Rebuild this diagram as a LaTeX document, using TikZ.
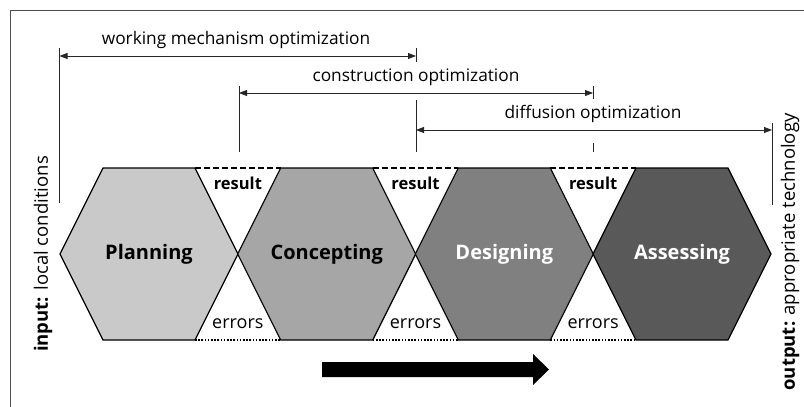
\documentclass[tikz,border=0pt]{standalone}
\usepackage{fontspec}
\setmainfont{Open Sans}
\usetikzlibrary{arrows.meta}

\definecolor{planfill}{gray}{0.79}
\definecolor{concfill}{gray}{0.65}
\definecolor{desfill}{gray}{0.50}
\definecolor{assfill}{gray}{0.35}

\tikzset{
  hexbox/.style={draw=black, line width=1.2pt, line join=miter},
  steplabel/.style={font=\fontsize{20}{23}\selectfont\bfseries},
  gaplabel/.style={font=\fontsize{18}{21}\selectfont},
  resultlabel/.style={font=\fontsize{16.5}{20}\selectfont\bfseries},
  spanlabel/.style={font=\fontsize{17.3}{20}\selectfont},
  sidelabel/.style={font=\fontsize{18.5}{21}\selectfont, rotate=90},
  spanline/.style={draw=black!85, line width=0.8pt,
    {Triangle[length=8pt,width=6pt]}-{Triangle[length=8pt,width=6pt]}},
  tick/.style={draw=black!85, line width=0.9pt},
  resultline/.style={draw=black, line width=1.5pt, dash pattern=on 6pt off 3pt},
  errorline/.style={draw=black, line width=1.5pt, dash pattern=on 1.6pt off 1.6pt},
}

% hexagon centred at x = #1 (top edge at y=168, bottom at y=340)
\newcommand{\hexshape}[2]{%
  \draw[hexbox, fill=#2] (#1-89,254) -- (#1-46,168) -- (#1+46,168)
    -- (#1+89,254) -- (#1+46,340) -- (#1-46,340) -- cycle;}

\begin{document}
\begin{tikzpicture}[x=1pt, y=-1pt]
\useasboundingbox (0,0) rectangle (804,407);

% outer frame (top and left edges)
\draw[black!70, line width=1pt] (10,407) -- (10,10) -- (804,10);

% the four process steps
\hexshape{149}{planfill}
\hexshape{326.7}{concfill}
\hexshape{504.3}{desfill}
\hexshape{682}{assfill}

\node[steplabel] (plan) at (149,254) {Planning};
\node[steplabel] (conc) at (326.7,254) {Concepting};
\node[steplabel, text=white] (des) at (504.3,254) {Designing};
\node[steplabel, text=white] (ass) at (682,254) {Assessing};

% result (top) and errors (bottom) gaps between steps
\foreach \a/\b [count=\i] in {149/326.7, 326.7/504.3, 504.3/682} {
  \coordinate (rl\i) at (\a+46,168);
  \coordinate (rr\i) at (\b-46,168);
  \coordinate (el\i) at (\a+46,340);
  \coordinate (er\i) at (\b-46,340);
  \draw[resultline] (rl\i) -- (rr\i);
  \draw[errorline] (el\i) -- (er\i);
  \node[resultlabel] (res\i) at ({(\a+\b)/2},183) {result};
  \node[gaplabel] (err\i) at ({(\a+\b)/2},324) {errors};
}

% span ticks
\coordinate (w1) at (59.5,48);  \coordinate (w1b) at (59.5,203);
\coordinate (w2) at (416,48);   \coordinate (w2b) at (416,62);
\coordinate (c1) at (239,86);   \coordinate (c1b) at (239,152);
\coordinate (c2) at (593,86);   \coordinate (c2b) at (593,99);
\coordinate (d1) at (416,100);  \coordinate (d1b) at (416,152);
\coordinate (d2) at (772,123);  \coordinate (d2b) at (772,205);
\coordinate (dm) at (593,143);  \coordinate (dmb) at (593,152);
\foreach \p/\q in {w1/w1b, w2/w2b, c1/c1b, c2/c2b, d1/d1b, d2/d2b, dm/dmb}
  \draw[tick] (\p) -- (\q);

% optimisation spans
\coordinate (wa) at (59.5,56);  \coordinate (wb) at (416,56);
\coordinate (ca) at (239,93);   \coordinate (cb) at (593,93);
\coordinate (da) at (416,130);  \coordinate (db) at (772,130);
\draw[spanline] (wa) -- (wb);
\draw[spanline] (ca) -- (cb);
\draw[spanline] (da) -- (db);
\node[spanlabel] (wlab) at (236,40) {working mechanism optimization};
\node[spanlabel] (clab) at (416,77) {construction optimization};
\node[spanlabel] (dlab) at (593,114) {diffusion optimization};

% input and output
\node[sidelabel] (inp) at (43,254) {\textbf{input:} local conditions};
\node[sidelabel] (outp) at (790,252) {\textbf{output:} appropriate technology};

% direction arrow
\fill[black] (322,362) -- (533,362) -- (533,354) -- (549,369.5)
  -- (533,385) -- (533,377) -- (322,377) -- cycle;
\end{tikzpicture}
\end{document}
